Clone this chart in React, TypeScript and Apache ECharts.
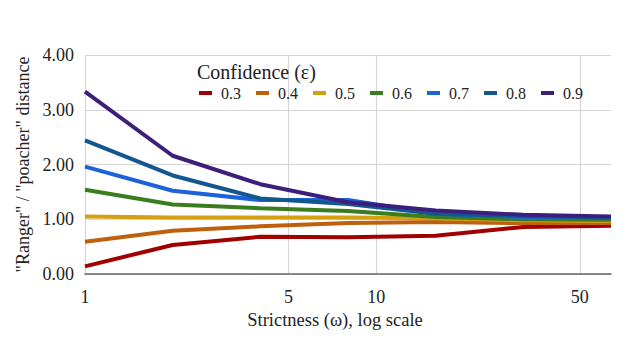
import React, { useEffect, useRef } from "react";
import * as echarts from "echarts";

const strictness = [1, 2, 4, 8, 16, 32, 64];
const seriesNames = ["0.3", "0.4", "0.5", "0.6", "0.7", "0.8", "0.9"];
const s03 = [0.14, 0.53, 0.68, 0.67, 0.7, 0.86, 0.88];
const s04 = [0.59, 0.79, 0.87, 0.93, 0.95, 0.93, 0.93];
const s05 = [1.05, 1.03, 1.03, 1.03, 1.02, 0.98, 0.97];
const s06 = [1.54, 1.27, 1.2, 1.15, 1.04, 1.0, 0.99];
const s07 = [1.96, 1.52, 1.35, 1.35, 1.1, 1.04, 1.02];
const s08 = [2.44, 1.8, 1.38, 1.28, 1.1, 1.06, 1.03];
const s09 = [3.33, 2.16, 1.64, 1.31, 1.16, 1.08, 1.05];
const seriesValues = [s03, s04, s05, s06, s07, s08, s09];
const colors = ["#a00000", "#bf600c", "#d4a010", "#3a7d1f", "#1c63da", "#13578f", "#3b1f7b"];
const xTicks = [1, 5, 10, 50];

const FONT = "Times New Roman, Liberation Serif, DejaVu Serif, serif";

export default function App() {
  const ref = useRef<HTMLDivElement>(null);
  useEffect(() => {
    if (!ref.current) return;
    const chart = echarts.init(ref.current, undefined, { renderer: "svg" });
    chart.setOption({
      animation: false,
      textStyle: { fontFamily: FONT },
      title: {
        text: "Confidence (ε)",
        left: 197,
        top: 62,
        padding: 0,
        textStyle: { fontFamily: FONT, fontSize: 20, fontWeight: "normal", color: "#222" },
      },
      legend: {
        left: 199,
        top: 85,
        padding: 0,
        itemWidth: 13,
        itemHeight: 4,
        itemGap: 15,
        icon: "rect",
        data: seriesNames,
        textStyle: { fontFamily: FONT, fontSize: 16, color: "#222", padding: [0, 0, 0, 4] },
      },
      grid: { left: 85, right: 16, top: 55, bottom: 66, containLabel: false },
      xAxis: {
        type: "log",
        logBase: 10,
        min: 1,
        max: 64,
        name: "Strictness (ω), log scale",
        nameLocation: "middle",
        nameGap: 36,
        nameTextStyle: { fontFamily: FONT, fontSize: 18.5, color: "#222", padding: [0, 26, 0, 0] },
        axisLine: { show: true, lineStyle: { color: "#666", width: 1.5 } },
        axisTick: { show: false, customValues: xTicks },
        axisLabel: {
          customValues: xTicks,
          fontFamily: FONT,
          fontSize: 18,
          color: "#222",
          margin: 14,
          formatter: (v: number) => String(Math.round(v)),
        },
        splitLine: { show: true, lineStyle: { color: "#d6d6d6", width: 1.2 } },
        minorSplitLine: { show: false },
      },
      yAxis: {
        type: "value",
        min: 0,
        max: 4,
        interval: 1,
        name: '"Ranger" / "poacher" distance',
        nameLocation: "middle",
        nameGap: 52,
        nameTextStyle: { fontFamily: FONT, fontSize: 18, color: "#222" },
        axisLine: { show: false },
        axisTick: { show: false },
        axisLabel: {
          fontFamily: FONT,
          fontSize: 18,
          color: "#222",
          margin: 11,
          formatter: (v: number) => v.toFixed(2),
        },
        splitLine: { show: true, lineStyle: { color: "#d6d6d6", width: 1.2 } },
      },
      series: seriesNames.map((name, i) => ({
        name,
        type: "line",
        data: strictness.map((x, j) => [x, seriesValues[i][j]]),
        symbol: "none",
        lineStyle: { width: 4, color: colors[i] },
        itemStyle: { color: colors[i] },
        z: 2 + i,
      })),
    });
    return () => chart.dispose();
  }, []);
  return (
    <div
      ref={ref}
      style={{ position: "fixed", left: 0, top: 0, width: 627, height: 340, background: "#fff" }}
    />
  );
}
